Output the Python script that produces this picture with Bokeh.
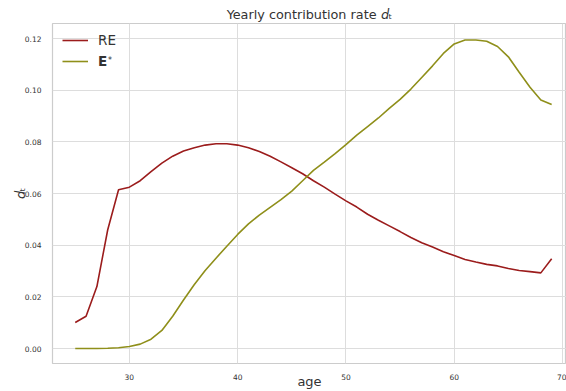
import math
from bokeh.plotting import figure
from bokeh.models import Legend, LegendItem, Label, Range1d, FixedTicker, NumeralTickFormatter
from bokeh.embed import file_html
from bokeh.resources import INLINE

ages = list(range(25, 70))
re_vals = [0.0101, 0.0125, 0.0240, 0.0460, 0.0615, 0.0625, 0.0650, 0.0685, 0.0718, 0.0745,
           0.0765, 0.0778, 0.0788, 0.0793, 0.0793, 0.0788, 0.0778, 0.0763, 0.0745, 0.0723,
           0.0700, 0.0677, 0.0650, 0.0625, 0.0598, 0.0572, 0.0548, 0.0520, 0.0497, 0.0475,
           0.0453, 0.0430, 0.0410, 0.0393, 0.0375, 0.0360, 0.0345, 0.0335, 0.0326, 0.0320,
           0.0310, 0.0302, 0.0298, 0.0293, 0.0348]
e_vals = [0.0000, 0.0000, 0.0000, 0.0001, 0.0003, 0.0008, 0.0017, 0.0036, 0.0070, 0.0125,
          0.0188, 0.0248, 0.0302, 0.0350, 0.0396, 0.0442, 0.0483, 0.0517, 0.0547, 0.0577,
          0.0610, 0.0650, 0.0690, 0.0722, 0.0755, 0.0790, 0.0827, 0.0860, 0.0893, 0.0930,
          0.0965, 0.1005, 0.1050, 0.1095, 0.1143, 0.1180, 0.1195, 0.1195, 0.1190, 0.1170,
          0.1130, 0.1070, 0.1012, 0.0963, 0.0945]
x_ticks = [30, 40, 50, 60, 70]
y_ticks = [0.0, 0.02, 0.04, 0.06, 0.08, 0.10, 0.12]

W, H = 566, 391
L, T, B = 52, 23, 28
FH = H - T - B

p = figure(width=W, height=H, output_backend="svg", toolbar_location=None,
           x_range=Range1d(22.9, 70.37), y_range=Range1d(-0.0058, 0.1259),
           min_border_left=L, min_border_right=0, min_border_top=T, min_border_bottom=B,
           title="Yearly contribution rate \U0001D625\u209C")
p.background_fill_color = "white"
p.border_fill_color = "white"
p.outline_line_color = "#cccccc"
p.outline_line_width = 1.2

p.title.align = "center"
p.title.offset = 2
p.title.standoff = 3
p.title.text_font = "DejaVu Sans"
p.title.text_font_size = "12.8px"
p.title.text_font_style = "normal"
p.title.text_color = "#333333"

for ax in (p.xaxis, p.yaxis):
    ax.axis_line_color = None
    ax.major_tick_line_color = None
    ax.minor_tick_line_color = None
    ax.major_label_text_font = "DejaVu Sans"
    ax.major_label_text_font_size = "7.5px"
    ax.major_label_text_color = "#333333"
    ax.axis_label_text_font = "DejaVu Sans"
    ax.axis_label_text_color = "#333333"
p.xaxis.ticker = FixedTicker(ticks=x_ticks)
p.yaxis.ticker = FixedTicker(ticks=y_ticks)
p.yaxis.formatter = NumeralTickFormatter(format="0.00")
p.xaxis.major_label_standoff = 4
p.yaxis.major_label_standoff = 5
p.xaxis.axis_label = "age"
p.xaxis.axis_label_text_font_size = "13px"
p.xaxis.axis_label_text_font_style = "normal"
p.xaxis.axis_label_standoff = -9
p.yaxis.axis_label = "\U0001D625\u209C"
p.yaxis.axis_label_text_font_size = "13px"
p.yaxis.axis_label_text_font_style = "normal"
p.yaxis.axis_label_standoff = -6
p.grid.grid_line_color = "#dddddd"
p.grid.grid_line_width = 1

r1 = p.line(ages, re_vals, line_color="#9b1c1c", line_width=1.6)
r2 = p.line(ages, e_vals, line_color="#8f8f1a", line_width=1.6)

common = dict(padding=0, margin=0, glyph_width=26, glyph_height=20, label_height=20,
              label_standoff=10, border_line_color=None, background_fill_alpha=0,
              label_text_font="DejaVu Sans", label_text_font_size="13.5px",
              label_text_color="#333333")
leg1 = Legend(items=[LegendItem(label="RE", renderers=[r1])], location=(10, FH - 16.5 - 10), **common)
leg2 = Legend(items=[LegendItem(label="E", renderers=[r2])], location=(10, FH - 37.5 - 10),
              label_text_font_style="bold", **common)
p.add_layout(leg1)
p.add_layout(leg2)

p.add_layout(Label(x=107.5 - L, y=(H - B) - 60, x_units="screen", y_units="screen",
                   text="*", text_font="DejaVu Sans", text_font_size="8px",
                   text_baseline="alphabetic", text_color="#333333"))

open("out.html", "w").write(file_html(p, INLINE))
